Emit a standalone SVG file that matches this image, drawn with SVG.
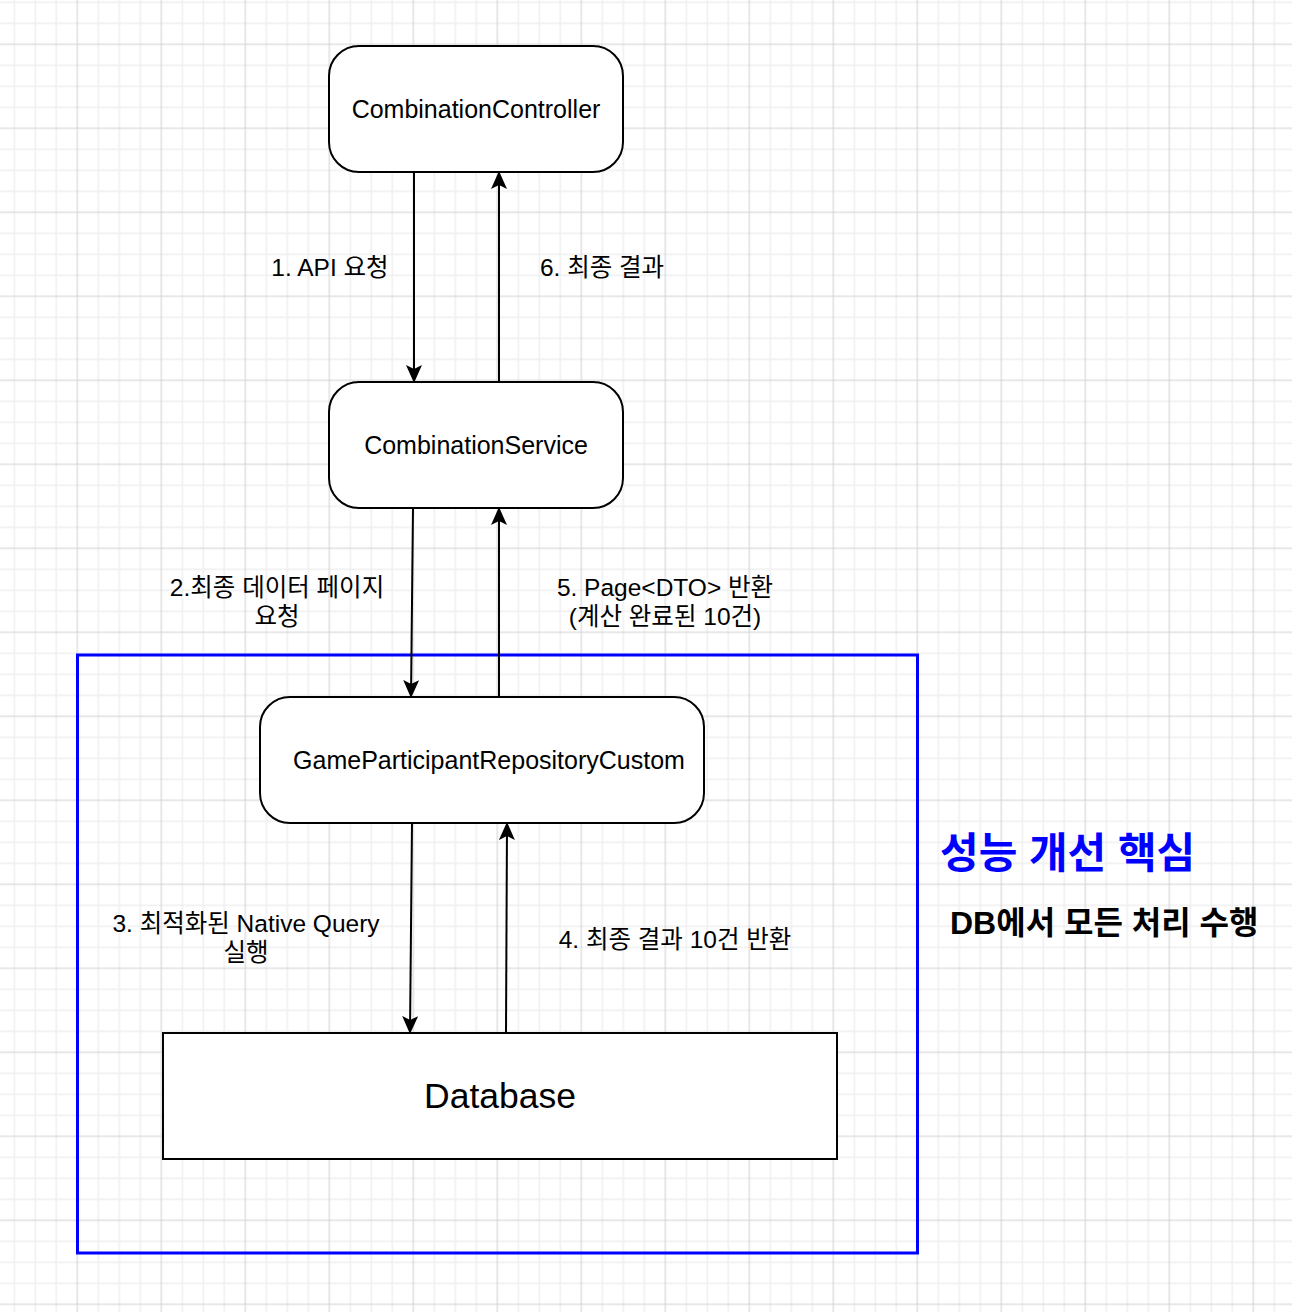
<svg xmlns="http://www.w3.org/2000/svg" width="1292" height="1312" viewBox="0 0 1292 1312">
<style>
.node{fill:#fff;stroke:#000;stroke-width:2}
.nt{font-family:"Liberation Sans","Noto Sans CJK KR",sans-serif;font-size:25px;fill:#000;text-anchor:middle;dominant-baseline:central}
.lbl{font-family:"Liberation Sans","Noto Sans CJK KR",sans-serif;font-size:24.5px;fill:#000;text-anchor:middle;dominant-baseline:central}
.edge{fill:none;stroke:#000;stroke-width:2;marker-end:url(#arr)}
</style>
<defs>
<pattern id="grid" patternUnits="userSpaceOnUse" x="67.3" y="34.3" width="84" height="84">
<path d="M31 0V84M52 0V84M73 0V84M0 31H84M0 52H84M0 73H84" stroke="#f0f0f0" stroke-width="1.6"/>
<path d="M10 0V84M0 10H84" stroke="#d0d0d0" stroke-width="1"/>
</pattern>
<marker id="arr" viewBox="0 0 18 16" refX="17" refY="8" markerWidth="18" markerHeight="16" markerUnits="userSpaceOnUse" orient="auto">
<path d="M0,0 L18,8 L0,16 L4,8 Z" fill="#000"/>
</marker>
</defs>
<rect width="1292" height="1312" fill="#fff"/>
<rect width="1292" height="1312" fill="url(#grid)"/>
<g id="focus-area">
<rect x="77.5" y="655" width="840" height="598" fill="none" stroke="#0000ff" stroke-width="3"/>
<text x="940" y="853" font-family="'Liberation Sans','Noto Sans CJK KR',sans-serif" font-size="42" font-weight="bold" fill="#0000ff" dominant-baseline="central">성능 개선 핵심</text>
<text x="950" y="923" font-family="'Liberation Sans','Noto Sans CJK KR',sans-serif" font-size="32" font-weight="bold" fill="#000" dominant-baseline="central">DB에서 모든 처리 수행</text>
</g>
<g id="connectors">
<path class="edge" d="M414 172V382"/>
<path class="edge" d="M499 382V172"/>
<path class="edge" d="M413 508L411 697"/>
<path class="edge" d="M499 697V508"/>
<path class="edge" d="M412 823L410 1033"/>
<path class="edge" d="M506 1033L507 823"/>
<text class="lbl" x="330" y="267">1. API 요청</text>
<text class="lbl" x="602" y="267">6. 최종 결과</text>
<text class="lbl" x="277" y="587">2.최종 데이터 페이지</text>
<text class="lbl" x="277" y="616">요청</text>
<text class="lbl" x="665" y="587">5. Page&lt;DTO&gt; 반환</text>
<text class="lbl" x="665" y="616">(계산 완료된 10건)</text>
<text class="lbl" x="246" y="923">3. 최적화된 Native Query</text>
<text class="lbl" x="246" y="952">실행</text>
<text class="lbl" x="675" y="939">4. 최종 결과 10건 반환</text>
</g>
<g id="controller">
<rect class="node" x="329" y="46" width="294" height="126" rx="30"/>
<text class="nt" x="476" y="109">CombinationController</text>
</g>
<g id="service">
<rect class="node" x="329" y="382" width="294" height="126" rx="30"/>
<text class="nt" x="476" y="445">CombinationService</text>
</g>
<g id="repository">
<rect class="node" x="260" y="697" width="444" height="126" rx="30"/>
<text class="nt" x="489" y="760">GameParticipantRepositoryCustom</text>
</g>
<g id="database">
<rect class="node" x="163" y="1033" width="674" height="126"/>
<text class="nt" x="500" y="1096" style="font-size:35.5px">Database</text>
</g>
</svg>
